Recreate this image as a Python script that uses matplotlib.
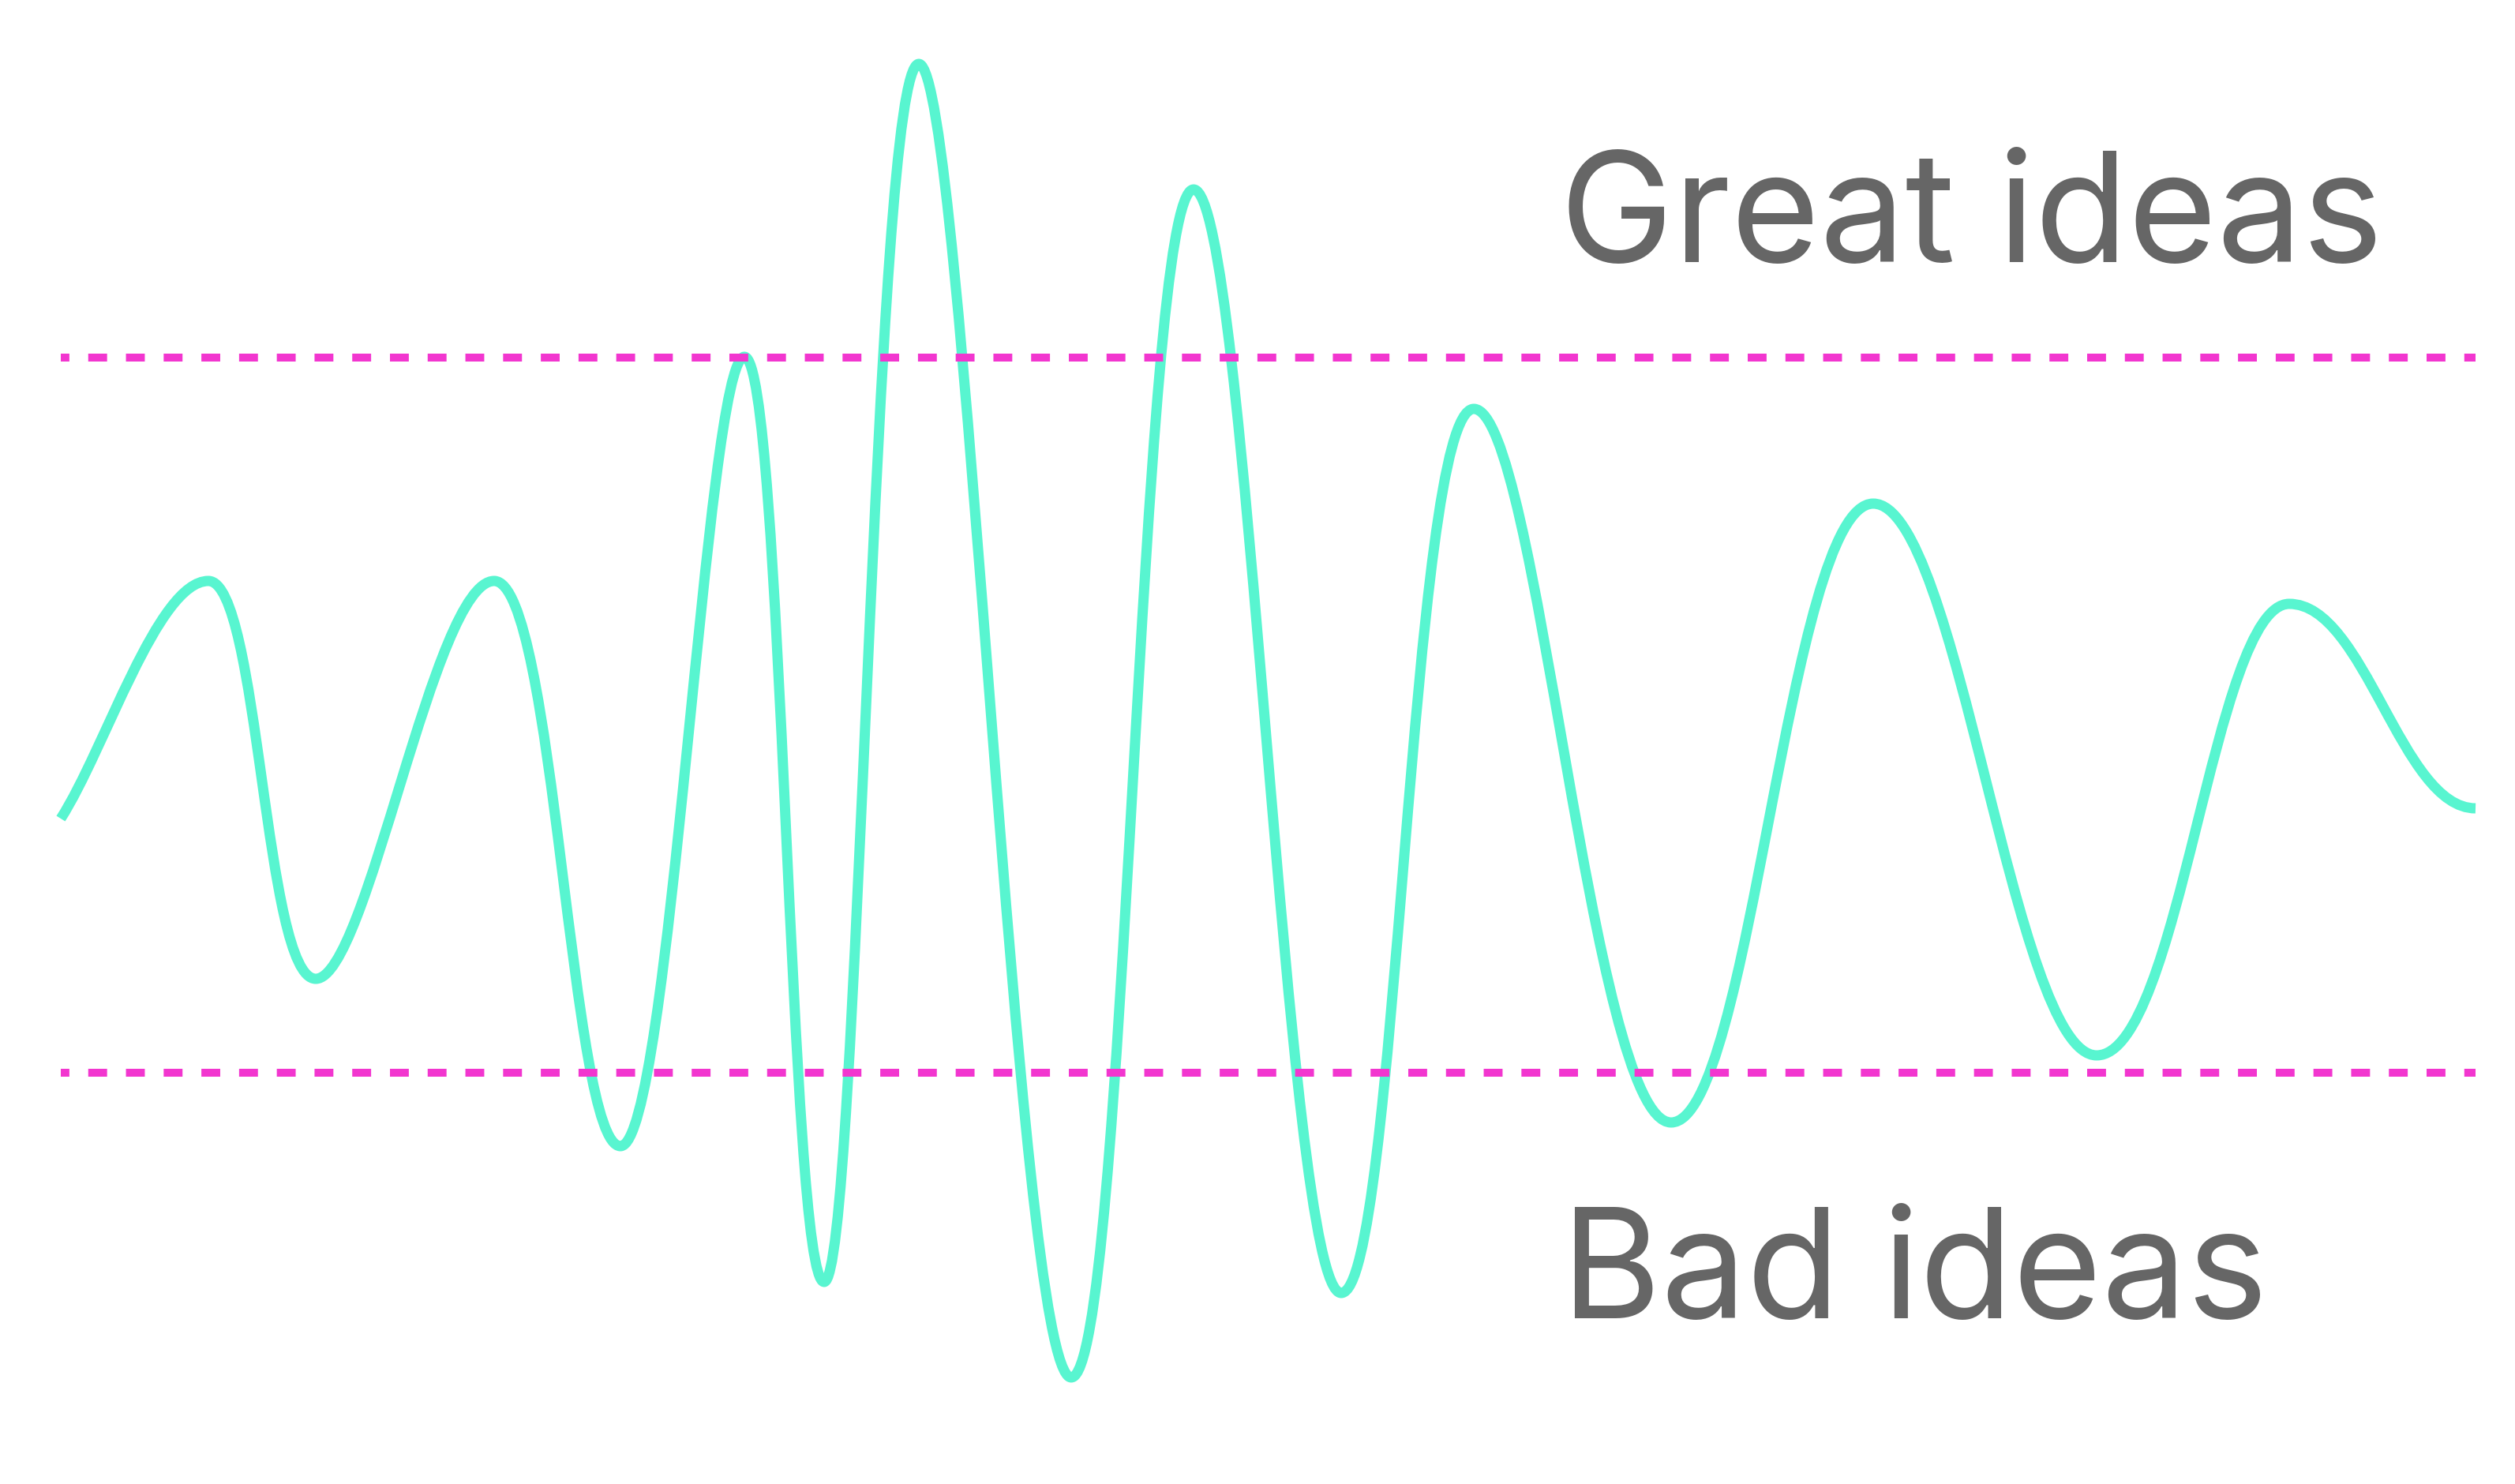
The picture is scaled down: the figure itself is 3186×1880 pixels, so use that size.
import matplotlib
matplotlib.use("Agg")
import matplotlib.pyplot as plt
from matplotlib.path import Path
from matplotlib.patches import PathPatch

plt.rcParams['lines.scale_dashes'] = False

# turning points of the wave (pixel space, y grows downwards)
turn_x = [77, 264, 400, 626, 786, 943, 1044, 1164, 1357, 1512, 1699, 1867, 2117, 2373, 2656, 2900, 3136]
turn_y = [1037, 736, 1240, 736, 1452, 452, 1624, 81, 1745, 240, 1638, 518, 1422, 638, 1337, 765, 1024]
start_slope = -1.56  # the wave starts mid-rise

# threshold lines
great_y = 453
bad_y = 1359
line_x = [77, 3136]

labels = ["Great ideas", "Bad ideas"]
label_x = [1976, 1978]
label_y = [332, 1670]

teal = "#58F5D0"
magenta = "#F236CF"
grey = "#666666"

W, H = 3186, 1880
fig = plt.figure(figsize=(W / 100, H / 100), dpi=100)
ax = fig.add_axes([0, 0, 1, 1])
ax.set_xlim(0, W)
ax.set_ylim(H, 0)
ax.axis("off")

# smooth wave: cubic beziers, flat tangents at peaks/troughs,
# same handle length on both sides of each turning point
k = 0.4
n = len(turn_x)
handle = []
for i in range(n):
    left = turn_x[i] - turn_x[i - 1] if i > 0 else None
    right = turn_x[i + 1] - turn_x[i] if i < n - 1 else None
    sides = [d for d in (left, right) if d is not None]
    h = k * sum(sides) / len(sides)
    handle.append(min([h] + [0.48 * d for d in sides]))

verts = [(turn_x[0], turn_y[0])]
codes = [Path.MOVETO]
for i in range(1, n):
    x0, y0 = turn_x[i - 1], turn_y[i - 1]
    x1, y1 = turn_x[i], turn_y[i]
    if i == 1:
        a = 0.3 * (x1 - x0)
        c1 = (x0 + a, y0 + start_slope * a)
    else:
        c1 = (x0 + handle[i - 1], y0)
    c2 = (x1 - handle[i], y1)
    verts += [c1, c2, (x1, y1)]
    codes += [Path.CURVE4] * 3

wave = PathPatch(Path(verts, codes), fill=False, edgecolor=teal,
                 lw=13 * 0.72, capstyle="butt", joinstyle="round", zorder=2)
ax.add_patch(wave)

dash = (9.36, (17.2, 17.2))
for yy in [great_y, bad_y]:
    ax.plot(line_x, [yy, yy], color=magenta, lw=10 * 0.72,
            linestyle=dash, dash_capstyle="butt", zorder=3)

for txt, tx, ty in zip(labels, label_x, label_y):
    ax.text(tx, ty, txt, color=grey, fontsize=139, family=["Inter", "DejaVu Sans"],
            ha="left", va="baseline", zorder=4)

fig.savefig("out.png", dpi=100, facecolor="white")
